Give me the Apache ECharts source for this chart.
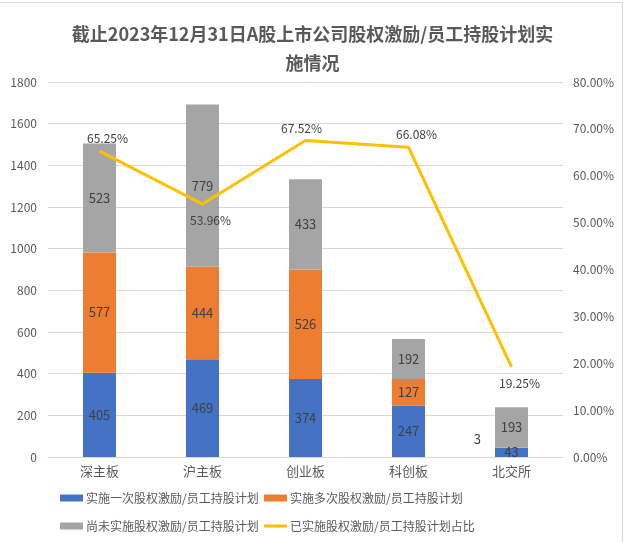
<!DOCTYPE html>
<html>
<head>
<meta charset="utf-8">
<script src="https://cdn.jsdelivr.net/npm/echarts@6/dist/echarts.min.js"></script>
<style>
	html, body { margin: 0; padding: 0; background: #fff; overflow: hidden; }
	#frame { position: absolute; left: -1px; top: 2px; width: 622px; height: 600px; border: 1px solid #d9d9d9; }
	#main { position: absolute; left: 0; top: 0; width: 625px; height: 542px; }
</style>
</head>
<body>
<div id="frame"></div>
<div id="main"></div>
<script>
var boards = ['深主板', '沪主板', '创业板', '科创板', '北交所'];
var onceCnt = [405, 469, 374, 247, 43]; // 实施一次
var multiCnt = [577, 444, 526, 127, 3]; // 实施多次
var notyetCnt = [523, 779, 433, 192, 193]; // 尚未实施
var ratio = [0.6525, 0.5396, 0.6752, 0.6608, 0.1925]; // 已实施占比
var leftTicks = { min: 0, max: 1800, interval: 200 };
var rightTicks = { min: 0, max: 0.8, interval: 0.1 };

var seriesName = [
	'实施一次股权激励/员工持股计划',
	'实施多次股权激励/员工持股计划',
	'尚未实施股权激励/员工持股计划',
	'已实施股权激励/员工持股计划占比'
];
var FONT = '"Noto Sans CJK SC", "Noto Sans", sans-serif';
var txt = '#595959';

// 折线标签位置 (上/下)
var ratioLabelPos = ['top', 'bottom', 'top', 'top', 'bottom'];

function legendAt(name, left, top, isLine) {
	return {
		left: left,
		top: top,
		data: [{ name: name, icon: 'rect' }],
		itemWidth: 23,
		itemHeight: isLine ? 3 : 7,
		itemGap: 4,
		textStyle: { color: txt, fontSize: 12, fontFamily: FONT, padding: [0, 0, 0, -2] },
		selectedMode: false
	};
}

var myChart = echarts.init(document.getElementById('main'));
var option = {
	animation: false,
	textStyle: { fontFamily: FONT },
	title: {
		text: '截止2023年12月31日A股上市公司股权激励/员工持股计划实\n施情况',
		left: 'center',
		top: 15,
		textStyle: { fontSize: 18, fontWeight: 'bold', color: txt, lineHeight: 29, fontFamily: FONT }
	},
	legend: [
		legendAt(seriesName[0], 55, 487, false),
		legendAt(seriesName[1], 259, 487, false),
		legendAt(seriesName[2], 55, 515, false),
		legendAt(seriesName[3], 259, 515, true)
	],
	grid: { left: 48, right: 62, top: 82, bottom: 85, containLabel: false },
	xAxis: {
		type: 'category',
		data: boards,
		axisLine: { lineStyle: { color: '#d9d9d9' } },
		axisTick: { show: false },
		axisLabel: { color: txt, fontSize: 13, margin: 8 }
	},
	yAxis: [{
		type: 'value',
		min: leftTicks.min, max: leftTicks.max, interval: leftTicks.interval,
		axisLine: { show: false },
		axisTick: { show: false },
		splitLine: { lineStyle: { color: '#d9d9d9' } },
		axisLabel: { color: txt, fontSize: 12, margin: 11, formatter: function(v) { return String(v); } }
	}, {
		type: 'value',
		min: rightTicks.min, max: rightTicks.max, interval: rightTicks.interval,
		axisLine: { show: false },
		axisTick: { show: false },
		splitLine: { show: false },
		axisLabel: {
			color: txt, fontSize: 12, margin: 10,
			formatter: function(v) { return (v * 100).toFixed(2) + '%'; }
		}
	}],
	series: [{
		name: seriesName[0],
		type: 'bar',
		stack: 'cnt',
		barWidth: 33,
		itemStyle: { color: '#4472C4' },
		label: { show: true, position: 'inside', color: '#404040', fontSize: 13 },
		data: onceCnt
	}, {
		name: seriesName[1],
		type: 'bar',
		stack: 'cnt',
		itemStyle: { color: '#ED7D31' },
		label: { show: true, position: 'inside', color: '#404040', fontSize: 13 },
		data: multiCnt.map(function(v, i) {
			if (v < 20) {
				return { value: v, label: { position: 'left', distance: 14, offset: [0, -9] } };
			}
			return v;
		})
	}, {
		name: seriesName[2],
		type: 'bar',
		stack: 'cnt',
		itemStyle: { color: '#A5A5A5' },
		label: { show: true, position: 'inside', color: '#404040', fontSize: 13 },
		data: notyetCnt
	}, {
		name: seriesName[3],
		type: 'line',
		yAxisIndex: 1,
		symbol: 'circle',
		symbolSize: 1,
		showSymbol: true,
		z: 5,
		lineStyle: { color: '#FFC000', width: 3 },
		itemStyle: { color: '#FFC000' },
		label: {
			show: true, color: '#404040', fontSize: 12,
			formatter: function(p) { return (p.value * 100).toFixed(2) + '%'; }
		},
		data: ratio.map(function(v, i) {
			var pos = ratioLabelPos[i];
			return { value: v, label: { position: pos, distance: pos == 'top' ? 6 : 10, offset: [i == 2 ? -4 : 8, 0] } };
		})
	}]
};
myChart.setOption(option);
</script>
</body>
</html>
